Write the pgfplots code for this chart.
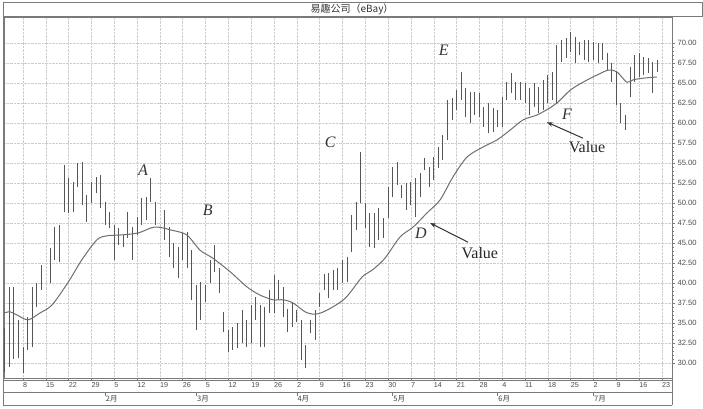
\documentclass[border=0pt]{standalone}
\usepackage{pgfplots}
\pgfplotsset{compat=1.18}
\usepackage{pgfplotstable}
\usepackage{fontspec}
\setmainfont{Liberation Sans}
\newfontfamily\serif{Liberation Serif}
\newfontfamily\cjk{Noto Sans CJK SC}
\usetikzlibrary{arrows.meta}
\definecolor{barc}{HTML}{565656}
\definecolor{linec}{HTML}{6E6E6E}
\definecolor{framec}{HTML}{7A7A7A}
\tikzset{
  mlab/.style={anchor=west, inner sep=0.5pt, text=black!75, font=\cjk\fontsize{7.5}{8}\selectfont},
  mtick/.style={framec, line width=0.5pt},
  lett/.style={font=\serif\itshape\fontsize{16}{16}\selectfont, text=black!80},
  valu/.style={font=\serif\fontsize{16}{16}\selectfont, text=black!85},
  arr/.style={-{Stealth[length=6pt,width=4.5pt]}, line width=1pt, black!80},
}

% daily high / low, x = trading day (8 Jan = 0)
\pgfplotstableread{
i h l
-4 34.4 28.9
-3 39.5 29.5
-2 39.5 30.5
-1 35.4 30.6
0 32.0 28.75
1 35.75 31.6
2 39.5 32.0
3 40.0 37.0
4 42.25 39.1
6 44.4 40.0
7 47.0 42.9
8 47.25 42.6
9 54.75 48.9
10 53.1 48.75
11 52.6 48.9
12 55.0 52.0
13 55.1 49.75
14 51.0 47.6
15 52.6 50.0
16 53.25 51.25
17 53.5 49.4
18 50.1 47.25
19 48.9 46.9
20 47.25 42.9
21 46.9 44.75
22 46.0 44.5
23 48.9 45.6
24 47.0 42.9
25 48.25 46.0
26 50.6 47.25
27 50.75 47.9
28 53.1 50.1
29 50.1 47.25
31 49.1 45.4
32 47.0 43.25
33 45.0 41.9
34 44.5 40.6
35 46.25 42.9
36 46.4 41.9
37 44.1 37.9
38 39.75 34.1
39 40.1 35.4
40 39.75 37.6
41 42.9 40.0
42 44.75 41.4
43 41.9 38.75
44 36.4 33.9
45 34.1 31.4
46 34.5 31.6
47 35.0 31.9
48 36.6 32.5
49 35.4 32.0
50 37.25 32.5
51 38.25 35.4
52 37.25 32.0
53 37.0 32.0
54 39.1 36.25
55 41.0 36.25
56 40.4 37.9
57 39.5 35.75
58 36.75 33.9
59 37.5 34.5
60 36.6 35.1
61 35.4 30.4
62 32.25 29.4
63 35.4 33.75
64 36.6 32.9
65 38.75 37.0
66 41.1 39.1
67 41.25 38.1
68 41.6 39.1
69 41.9 39.1
70 42.9 40.0
71 43.25 40.1
72 48.5 43.9
73 50.1 46.6
74 56.4 50.0
75 50.0 46.9
76 48.75 44.5
77 48.75 44.4
78 49.4 45.4
79 48.1 45.6
80 52.0 48.1
81 54.5 50.75
82 55.1 52.25
83 52.25 50.6
84 52.5 49.1
85 52.6 49.75
86 53.1 48.25
87 53.75 50.75
88 55.6 54.1
89 54.5 52.0
90 55.75 52.9
91 57.0 54.4
92 58.5 55.4
93 62.9 57.9
94 63.1 60.4
95 64.1 61.6
96 66.4 62.9
97 64.4 60.75
98 63.9 60.0
99 63.9 61.0
100 63.75 60.75
101 62.0 59.5
102 62.5 58.75
103 61.9 58.9
104 61.6 59.5
105 63.25 59.5
106 65.1 62.9
107 66.25 63.75
108 65.1 62.9
109 65.1 62.9
110 65.0 62.5
111 64.4 61.0
112 65.0 62.0
113 64.5 61.25
114 65.4 61.6
115 66.0 62.5
116 66.4 62.9
117 69.75 62.5
118 70.4 67.6
119 70.6 68.1
120 71.4 68.9
121 70.75 67.5
122 70.1 68.5
123 70.4 67.9
124 70.4 67.6
125 70.1 67.9
126 70.0 67.5
127 70.0 67.9
128 68.75 66.6
129 67.5 65.1
130 66.4 62.25
131 62.5 60.0
132 61.0 59.1
133 67.0 63.25
134 68.5 65.1
135 68.75 65.75
136 68.25 66.0
137 68.1 66.25
138 67.6 63.75
139 67.9 66.4
}\bars

% moving average ("Value")
\pgfplotstableread{
i v
-4.16 36.25
-2.85 36.4
-1.3 36.0
1.1 35.4
3.7 36.25
6.35 37.25
9.9 40.1
12.9 42.9
16.2 45.4
18.4 45.9
21.3 46.0
25.2 46.25
28.9 47.0
32.6 46.6
35.9 46.0
38.8 44.1
41.6 43.1
45.4 41.4
49.1 39.5
51.9 38.5
54.8 37.9
57.0 37.9
59.2 37.5
61.8 36.4
64.0 36.1
66.6 36.6
70.6 38.1
74.3 40.75
76.5 41.6
79.3 43.1
82.6 45.75
85.5 47.0
88.5 48.75
91.4 50.4
94.2 53.25
97.3 55.75
100.8 57.0
103.9 57.9
106.7 59.1
109.6 60.4
112.6 61.0
115.5 61.9
117.0 62.5
119.9 64.1
122.7 65.1
125.8 66.0
128.2 66.6
130.1 66.4
132.3 65.1
133.7 65.4
135.8 65.6
138.9 65.75
}\mavg

\begin{document}
\begin{tikzpicture}[x=1pt,y=1pt]
\useasboundingbox (0,0) rectangle (703,408);
\begin{axis}[
  at={(4pt,30pt)}, anchor=south west,
  scale only axis, width=668pt, height=361pt,
  xmin=-4.163, xmax=142.2, ymin=28.125, ymax=73.25,
  clip=false,
  axis line style={framec, line width=0.9pt},
  xtick={0,5,...,140},
  xticklabels={8,15,22,29,5,12,19,26,5,12,19,26,2,9,16,23,30,7,14,21,28,4,11,18,25,2,9,16,23},
  xtick pos=bottom, ytick pos=right,
  ytick={30,32.5,...,70},
  yticklabel pos=right,
  minor y tick num=4,
  tick align=outside,
  major tick length=3pt, minor tick length=1.5pt,
  tick style={framec, line width=0.5pt},
  grid=major,
  major grid style={gray!40, densely dotted, line width=0.5pt},
  /pgf/number format/assume math mode=true,
  yticklabel style={/pgf/number format/fixed, /pgf/number format/fixed zerofill,
    /pgf/number format/precision=2, font=\fontsize{7.6}{8}\selectfont, text=black!70, xshift=-1pt},
  xticklabel style={anchor=north west, font=\fontsize{7.2}{8}\selectfont, text=black!70,
    inner sep=0.5pt, xshift=-0.5pt, yshift=-0.5pt},
]
\addplot[draw=none, mark=none, forget plot,
  error bars/.cd, y dir=plus, y explicit, error mark=none,
  error bar style={draw=barc, line width=1pt}]
  table[x=i, y=l, y error expr=\thisrow{h}-\thisrow{l}] {\bars};
\addplot[linec, line width=1pt, smooth, tension=0.5, mark=none] table[x=i, y=v] {\mavg};

% month row
\draw[mtick] (axis cs:18,26.375) -- (axis cs:18,25.9);
\node[mlab] at (axis cs:18,25.55) {2月};
\draw[mtick] (axis cs:38,26.375) -- (axis cs:38,25.9);
\node[mlab] at (axis cs:38,25.55) {3月};
\draw[mtick] (axis cs:60,26.375) -- (axis cs:60,25.9);
\node[mlab] at (axis cs:60,25.55) {4月};
\draw[mtick] (axis cs:81,26.375) -- (axis cs:81,25.9);
\node[mlab] at (axis cs:81,25.55) {5月};
\draw[mtick] (axis cs:104,26.375) -- (axis cs:104,25.9);
\node[mlab] at (axis cs:104,25.55) {6月};
\draw[mtick] (axis cs:125,26.375) -- (axis cs:125,25.9);
\node[mlab] at (axis cs:125,25.55) {7月};

% annotations
\node[lett] at (axis cs:26.3,54.1) {A};
\node[lett] at (axis cs:40.5,49.1) {B};
\node[lett] at (axis cs:67.3,57.6) {C};
\node[lett] at (axis cs:87.2,46.25) {D};
\node[lett] at (axis cs:92.2,69.1) {E};
\node[lett] at (axis cs:119.2,61.1) {F};
\node[valu] at (axis cs:100.1,43.75) {Value};
\node[valu] at (axis cs:123.6,57.0) {Value};
\draw[arr] (axis cs:97.5,45.1) -- (axis cs:89.2,47.5);
\draw[arr] (axis cs:122.7,58.1) -- (axis cs:114.8,60.1);
\end{axis}

% frame: title bar and label rows
\draw[framec, line width=0.7pt] (3,392) rectangle (702,406);
\node[font=\cjk\fontsize{10}{11}\selectfont, text=black!80] at (352,399) {易趣公司（eBay）};
\draw[framec, line width=0.7pt] (3,3) -- (3,392);
\draw[framec, line width=0.7pt] (3,28) -- (672,28);
\draw[framec, line width=0.7pt] (3,16) -- (672,16);
\draw[framec, line width=0.7pt] (3,3) -- (672,3);
\draw[framec, line width=0.9pt] (672,3) -- (672,30);
\end{tikzpicture}
\end{document}
